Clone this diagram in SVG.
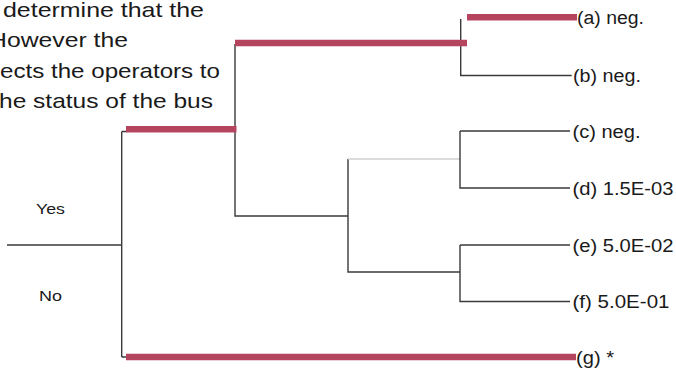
<svg xmlns="http://www.w3.org/2000/svg" width="676" height="370" viewBox="0 0 676 370">
<style>
.t{font-family:"Liberation Sans",Arial,sans-serif;fill:#1a1a1a}
.big{font-size:21px}
.lab{font-size:18px}
.thin{stroke:#3a3a3a;stroke-width:1.4;fill:none}
.light{stroke:#cfcfcf;stroke-width:1.6;fill:none}
.red{stroke:#b5445e;stroke-width:6.5;fill:none}
</style>
<rect width="676" height="370" fill="#ffffff"/>
<g id="caption">
<text class="t big" x="3" y="17" textLength="201" lengthAdjust="spacingAndGlyphs">determine that the</text>
<text class="t big" x="-11" y="47" textLength="139" lengthAdjust="spacingAndGlyphs">However the</text>
<text class="t big" x="0" y="78" textLength="220" lengthAdjust="spacingAndGlyphs">ects the operators to</text>
<text class="t big" x="-1" y="108" textLength="214" lengthAdjust="spacingAndGlyphs">he status of the bus</text>
</g>
<g id="connectors">
<path class="thin" d="M7,245 H121.7 M121.7,131.5 V357 M121.7,131.5 H127 M121.7,357 H127"/>
<path class="thin" d="M235,44 V216 H348 M348,159 V272 H460"/>
<path class="thin" d="M460.7,19 V75.5 H571.7"/>
<path class="light" d="M348,159 H460"/>
<path class="thin" d="M460,131 V188 H570 M460,131 H570"/>
<path class="thin" d="M460,245 V301.5 H570 M460,245 H570"/>
<path class="red" d="M126,129.3 H236.5"/>
<path class="red" d="M235,43 H467"/>
<path class="red" d="M467,17.3 H577"/>
<path class="red" d="M126,357 H576"/>
</g>
<g id="node-yes"><text class="t" style="font-size:15px" x="36" y="214" textLength="29" lengthAdjust="spacingAndGlyphs">Yes</text></g>
<g id="node-no"><text class="t" style="font-size:15px" x="39" y="301" textLength="23" lengthAdjust="spacingAndGlyphs">No</text></g>
<g id="leaf-a"><text class="t lab" x="577" y="24" textLength="67" lengthAdjust="spacingAndGlyphs">(a) neg.</text></g>
<g id="leaf-b"><text class="t lab" x="573" y="82" textLength="68" lengthAdjust="spacingAndGlyphs">(b) neg.</text></g>
<g id="leaf-c"><text class="t lab" x="572.5" y="138" textLength="68" lengthAdjust="spacingAndGlyphs">(c) neg.</text></g>
<g id="leaf-d"><text class="t lab" x="572.5" y="195" textLength="101" lengthAdjust="spacingAndGlyphs">(d) 1.5E-03</text></g>
<g id="leaf-e"><text class="t lab" x="572.5" y="252" textLength="101" lengthAdjust="spacingAndGlyphs">(e) 5.0E-02</text></g>
<g id="leaf-f"><text class="t lab" x="572.5" y="308" textLength="97" lengthAdjust="spacingAndGlyphs">(f) 5.0E-01</text></g>
<g id="leaf-g"><text class="t lab" x="576" y="364" textLength="38" lengthAdjust="spacingAndGlyphs">(g) *</text></g>
</svg>
